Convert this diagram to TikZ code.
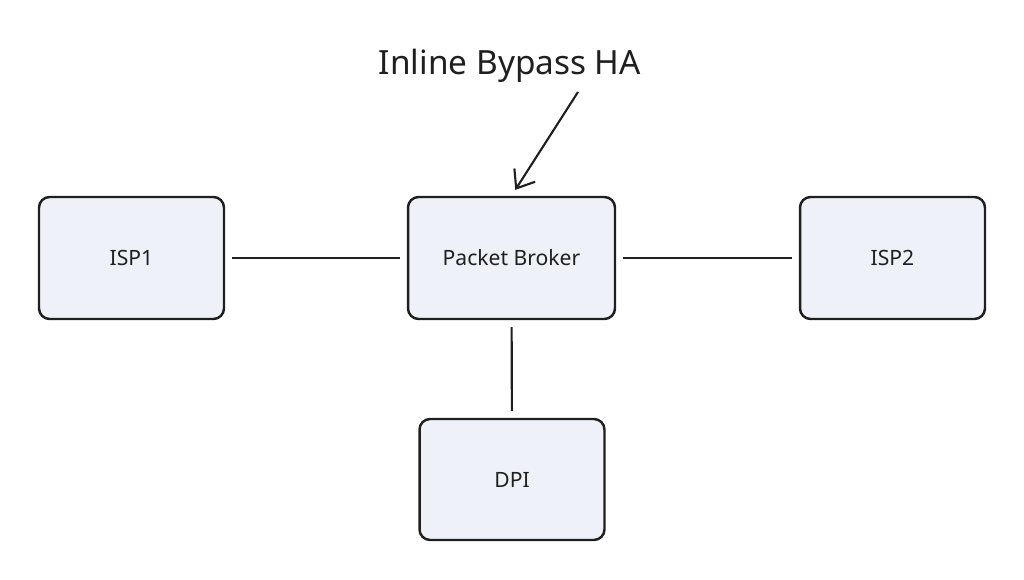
\documentclass[tikz,border=0pt]{standalone}
\usepackage{fontspec}
\setmainfont{Noto Sans}
\usetikzlibrary{positioning,arrows.meta}
\definecolor{boxfill}{HTML}{EEF1F8}
\definecolor{boxline}{HTML}{1F1F1F}

\begin{document}
\begin{tikzpicture}[x=0.02cm,y=-0.02cm,
device/.style={rectangle, rounded corners=6pt, draw=boxline, fill=boxfill, line width=1.4pt, minimum width=3.7cm, minimum height=2.44cm, font=\fontsize{12}{14}\selectfont, text=boxline},
link/.style={line width=1.2pt, draw=boxline, shorten >=0.14cm, shorten <=0.14cm}
]
\useasboundingbox (0,0) rectangle (1024,580);
\node[device, minimum width=4.14cm](broker) at (511.5,258){Packet Broker};
\node[device](isp1) at (131.5,258){ISP1};
\node[device](isp2) at (892.5,258){ISP2};
\node[device, minimum height=2.42cm](dpi) at (512,479.5){DPI};

\node[font=\fontsize{19}{22}\selectfont, text=boxline](ha) at (510,66){Inline Bypass HA};
\coordinate (tail) at (578,92);

\draw[link] (isp1) -- (broker);
\draw[link] (broker) -- (isp2);
\draw[link] (broker) -- (dpi);
\draw[-{Straight Barb[length=9pt,width=14pt]}, line width=1.2pt, draw=boxline, shorten >=0.14cm] (tail) -- (broker.north);
\end{tikzpicture}
\end{document}
